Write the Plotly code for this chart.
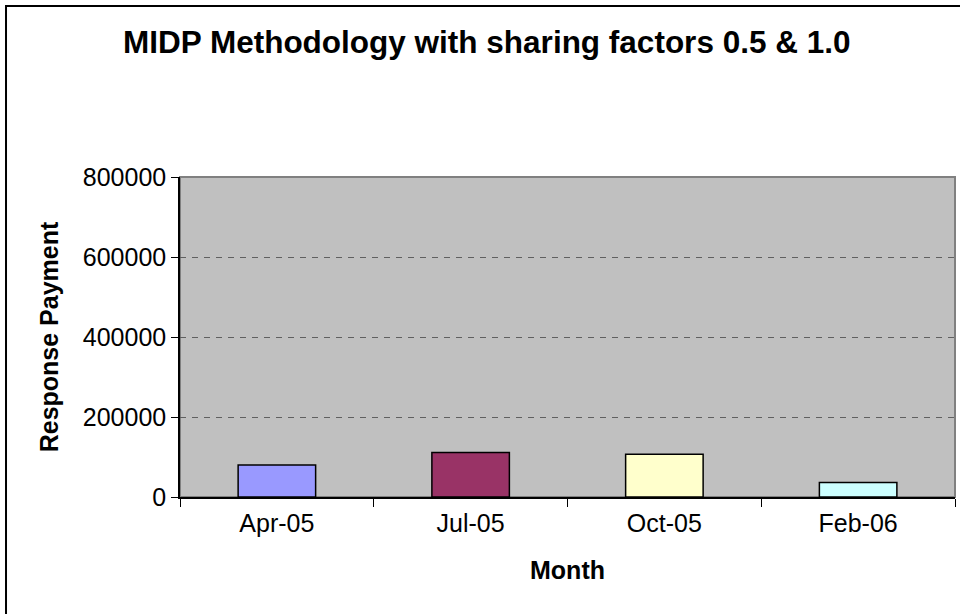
import plotly.graph_objects as go

# values
months = ['Apr-05', 'Jul-05', 'Oct-05', 'Feb-06']
payments = [80000, 111000, 107000, 36000]
bar_colors = ['#9999FF', '#993366', '#FFFFCC', '#CCFFFF']
y_ticks = [0, 200000, 400000, 600000, 800000]

font_family = 'Liberation Sans, Arial, sans-serif'

fig = go.Figure()
fig.add_trace(go.Bar(
    x=months, y=payments,
    marker=dict(color=bar_colors, line=dict(color='black', width=1.5)),
    hoverinfo='x+y', showlegend=False,
))

# grey plot border (top & right), axes lines drawn black on top
fig.add_shape(type='rect', xref='paper', yref='paper', x0=0, x1=1, y0=0, y1=1,
              line=dict(color='#808080', width=2), layer='below')
# outer chart frame (only left/top edges are visible in the picture)
fig.add_shape(type='rect', xref='paper', yref='paper', x0=-0.2245, x1=1.2,
              y0=-0.6, y1=1.534, line=dict(color='black', width=2))

fig.update_layout(
    width=960, height=614,
    margin=dict(l=180, r=5, t=177, b=117),
    paper_bgcolor='white', plot_bgcolor='#C0C0C0',
    font=dict(family=font_family, color='black', size=25),
    bargap=0.6,
    title=dict(text='<b>MIDP Methodology with sharing factors 0.5 &amp; 1.0</b>',
               x=0.507, xanchor='center', y=0.932, yanchor='middle',
               font=dict(size=31.5, family=font_family)),
    xaxis=dict(
        title=dict(text='<b>Month</b>', standoff=26, font=dict(size=25)),
        showline=True, linecolor='black', linewidth=1.5,
        ticks='outside', ticklen=8, tickcolor='black', tickwidth=1,
        ticklabelstandoff=3,
        tickson='boundaries', range=[-0.5, 3.5], showgrid=False,
    ),
    yaxis=dict(
        title=dict(text='<b>Response Payment</b>', standoff=17, font=dict(size=25)),
        range=[0, 800000], tickvals=y_ticks, tickformat='d',
        showline=True, linecolor='black', linewidth=1.5,
        ticks='outside', ticklen=7, tickcolor='black', tickwidth=1,
        showgrid=True, gridcolor='#606060', gridwidth=1, griddash='6px,6px',
        zeroline=False,
    ),
)

# drop the default page margin so the 960x614 figure fills the window exactly
fig.write_html('out.html', config={'displayModeBar': False},
               post_script="document.body.style.margin='0';document.body.style.overflow='hidden';")
